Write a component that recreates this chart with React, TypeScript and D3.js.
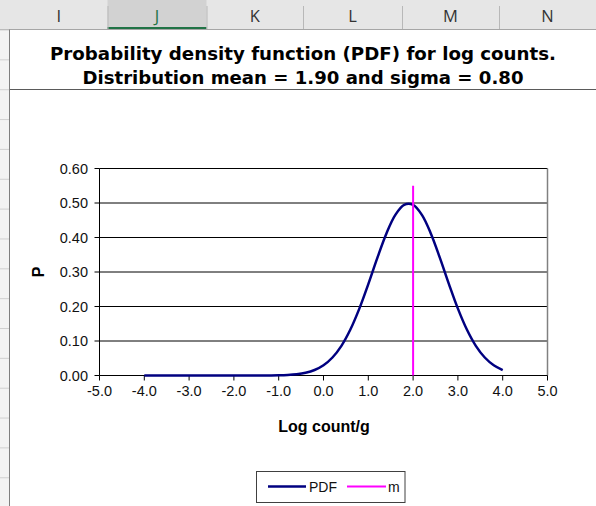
import React from "react";
import * as d3 from "d3";

const columnLetters = ["I", "J", "K", "L", "M", "N"];
const titleLines = [
  "Probability density function (PDF) for log counts.",
  "Distribution mean = 1.90 and sigma = 0.80",
];
const xTicks = [-5, -4, -3, -2, -1, 0, 1, 2, 3, 4, 5];
const yTicks = [0, 0.1, 0.2, 0.3, 0.4, 0.5, 0.6];

const logCounts = [
  -4.0, -3.8, -3.6, -3.4, -3.2, -3.0, -2.8, -2.6, -2.4, -2.2, -2.0, -1.8, -1.6, -1.4, -1.2,
  -1.0, -0.8, -0.6, -0.4, -0.2, 0.0, 0.2, 0.4, 0.6, 0.8, 1.0, 1.2, 1.4, 1.6, 1.8,
  2.0, 2.2, 2.4, 2.6, 2.8, 3.0, 3.2, 3.4, 3.6, 3.8, 4.0,
];
const pdfValues = [
  0, 0, 0, 0, 0, 0, 0, 0, 0, 0, 0, 0, 0.0001, 0.0001, 0.0003,
  0.0007, 0.0017, 0.0038, 0.008, 0.0159, 0.0297, 0.0522, 0.086, 0.1332, 0.1938, 0.2649, 0.3401, 0.4102, 0.4648, 0.4948,
  0.4948, 0.4648, 0.4102, 0.3401, 0.2649, 0.1938, 0.1332, 0.086, 0.0522, 0.0297, 0.0159,
];
const mX = [2.0, 2.0];
const mY = [0, 0.55];

const W = 596;
const H = 506;

export default function App() {
  const x = d3.scaleLinear().domain([-5, 5]).range([99.5, 547.5]);
  const y = d3.scaleLinear().domain([0, 0.6]).range([375.5, 168.5]);

  const pdfPts: [number, number][] = logCounts.map((v, i) => [v, pdfValues[i]]);
  const line = d3
    .line<[number, number]>()
    .x((d) => x(d[0]))
    .y((d) => y(d[1]))
    .curve(d3.curveCatmullRom.alpha(0.5));
  const mPts: [number, number][] = mX.map((v, i) => [v, mY[i]]);
  const mLine = d3
    .line<[number, number]>()
    .x((d) => x(d[0]))
    .y((d) => y(d[1]));

  const colEdges = [10, 107.5, 206.5, 303, 402, 499, 596];
  const rowLines = d3.range(0, 17).map((k) => 29.5 + 29.85 * k);

  const tickFont = "'Liberation Sans', Arial, sans-serif";

  return (
    <svg
      width={W}
      height={H}
      style={{ position: "fixed", left: 0, top: 0, background: "#fff" }}
    >
      {/* spreadsheet header */}
      <rect x={0} y={0} width={W} height={29.5} fill="#e6e6e6" />
      <rect x={colEdges[1]} y={0} width={colEdges[2] - colEdges[1]} height={29.5} fill="#d2d2d2" />
      <rect x={colEdges[1]} y={27} width={colEdges[2] - colEdges[1]} height={2.5} fill="#217346" />
      {colEdges.slice(1, 6).map((cx, i) => (
        <line key={"cd" + i} x1={cx + 0.5} x2={cx + 0.5} y1={6} y2={29} stroke="#b8b8b8" strokeWidth={1} />
      ))}
      {columnLetters.map((c, i) => (
        <text
          key={c}
          x={(colEdges[i] + colEdges[i + 1]) / 2}
          y={21.5}
          textAnchor="middle"
          fontFamily="'Open Sans', 'Noto Sans', sans-serif"
          fontSize={16.5}
          fill={c === "J" ? "#217346" : "#333"}
        >
          {c}
        </text>
      ))}
      <line x1={0} x2={W} y1={29.5} y2={29.5} stroke="#a6a6a6" />
      {/* row header strip */}
      <rect x={0} y={30} width={9.5} height={H - 30} fill="#f3f3f3" />
      {rowLines.map((ry, i) => (
        <line key={"rl" + i} x1={0} x2={9.5} y1={ry + 0.5} y2={ry + 0.5} stroke="#d0d0d0" />
      ))}
      <line x1={9.5} x2={9.5} y1={29.5} y2={H} stroke="#7f7f7f" />
      <line x1={10} x2={W} y1={89.5} y2={89.5} stroke="#5a5a5a" />

      {/* title */}
      {titleLines.map((t, i) => (
        <text
          key={"t" + i}
          x={303}
          y={59.5 + i * 24}
          textAnchor="middle"
          fontFamily="'DejaVu Sans', Verdana, sans-serif"
          fontWeight="bold"
          fontSize={17.5}
          textLength={i === 0 ? 506 : 441}
          lengthAdjust="spacingAndGlyphs"
          fill="#000"
        >
          {t}
        </text>
      ))}

      {/* gridlines */}
      {yTicks.slice(1).map((t) => (
        <line key={"g" + t} x1={x(-5)} x2={x(5)} y1={y(t)} y2={y(t)} stroke="#000" strokeWidth={1} />
      ))}
      {/* plot border right */}
      <line x1={x(5)} x2={x(5)} y1={y(0.6)} y2={y(0)} stroke="#808080" strokeWidth={1.5} />
      {/* axes */}
      <line x1={x(-5)} x2={x(-5)} y1={y(0.6)} y2={y(0)} stroke="#000" />
      <line x1={x(-5)} x2={x(5)} y1={y(0)} y2={y(0)} stroke="#000" />
      {yTicks.map((t) => (
        <g key={"yt" + t}>
          <line x1={x(-5) - 5} x2={x(-5)} y1={y(t)} y2={y(t)} stroke="#000" />
          <text
            x={88}
            y={y(t) + 5}
            textAnchor="end"
            fontFamily={tickFont}
            fontSize={14.5}
            fill="#111"
          >
            {t.toFixed(2)}
          </text>
        </g>
      ))}
      {xTicks.map((t) => (
        <g key={"xt" + t}>
          <line x1={x(t)} x2={x(t)} y1={y(0)} y2={y(0) + 5} stroke="#000" />
          <text
            x={x(t)}
            y={396}
            textAnchor="middle"
            fontFamily={tickFont}
            fontSize={14.5}
            fill="#111"
          >
            {t.toFixed(1)}
          </text>
        </g>
      ))}

      {/* series */}
      <path d={line(pdfPts) || ""} fill="none" stroke="#000080" strokeWidth={2.5} />
      <path d={mLine(mPts) || ""} fill="none" stroke="#ff00ff" strokeWidth={2} />

      {/* axis titles */}
      <text
        x={324}
        y={432}
        textAnchor="middle"
        fontFamily={tickFont}
        fontWeight="bold"
        fontSize={16}
        fill="#000"
      >
        Log count/g
      </text>
      <text
        transform={`translate(44, 272) rotate(-90)`}
        textAnchor="middle"
        fontFamily={tickFont}
        fontWeight="bold"
        fontSize={16}
        fill="#000"
      >
        P
      </text>

      {/* legend */}
      <rect x={256.5} y={471.5} width={148.5} height={31} fill="#fff" stroke="#404040" strokeWidth={1} />
      <line x1={268} x2={306} y1={486.5} y2={486.5} stroke="#000080" strokeWidth={2.5} />
      <text x={309} y={491.5} fontFamily={tickFont} fontSize={14} fill="#111">
        PDF
      </text>
      <line x1={347} x2={386} y1={486.5} y2={486.5} stroke="#ff00ff" strokeWidth={2} />
      <text x={388} y={491.5} fontFamily={tickFont} fontSize={14} fill="#111">
        m
      </text>
    </svg>
  );
}
